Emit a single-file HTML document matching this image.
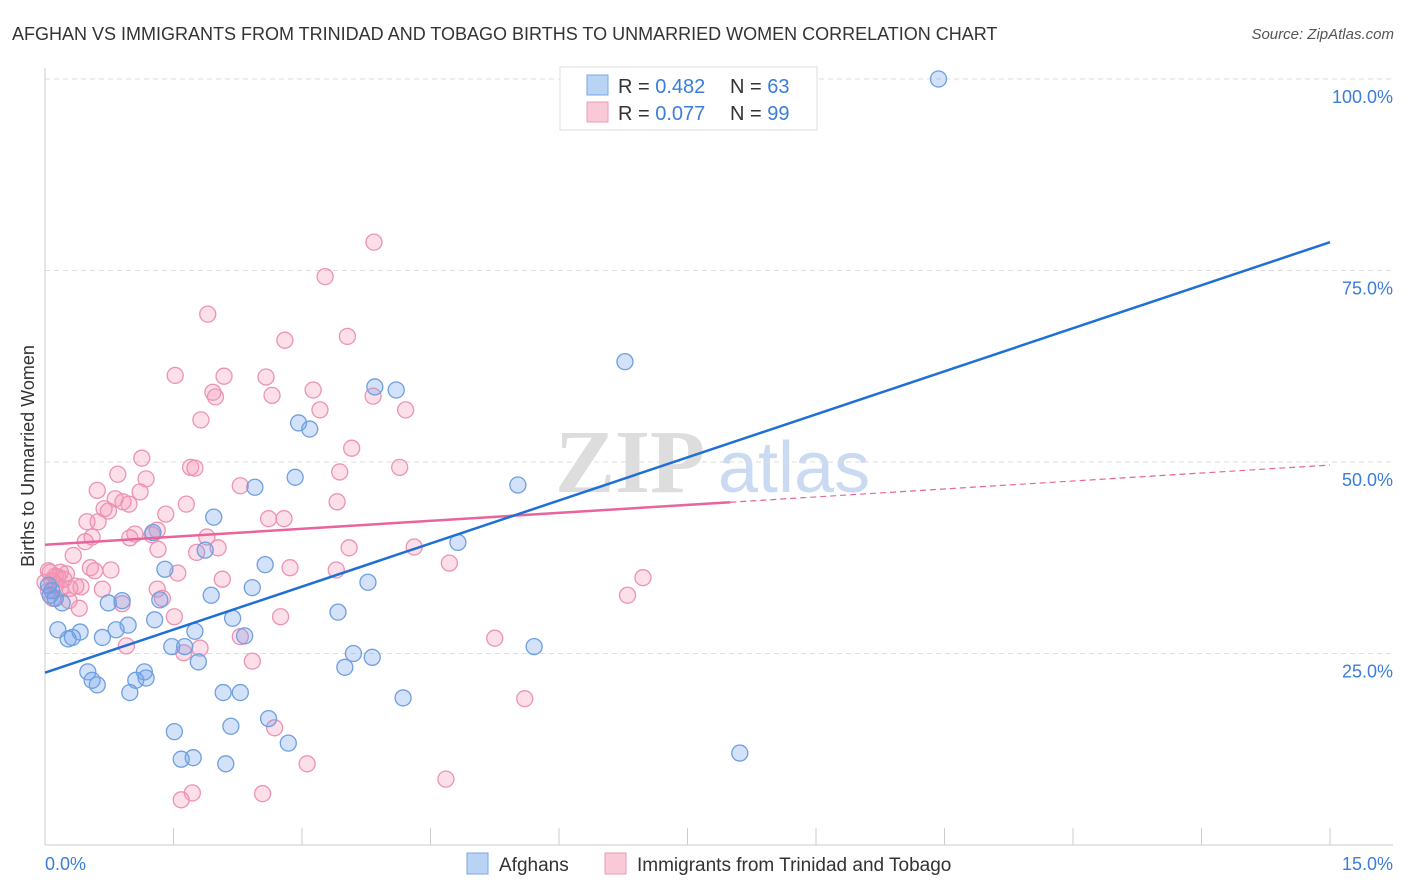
<!DOCTYPE html>
<html><head><meta charset="utf-8"><style>
body{margin:0;background:#fff;font-family:"Liberation Sans",sans-serif;}
svg{display:block}
</style></head><body>
<svg id="c" width="1406" height="892" xmlns="http://www.w3.org/2000/svg">
<text x="12" y="40" font-size="18" fill="#333">AFGHAN VS IMMIGRANTS FROM TRINIDAD AND TOBAGO BIRTHS TO UNMARRIED WOMEN CORRELATION CHART</text>
<text x="1394" y="39" font-size="15" fill="#555" font-style="italic" text-anchor="end">Source: ZipAtlas.com</text>
<text x="555" y="492" font-size="90" fill="#ddd" font-family="Liberation Serif" font-weight="bold">ZIP</text>
<text x="718" y="492" font-size="72" fill="#c9daf2">atlas</text>
<g id="grid"></g><g id="axes"></g><g id="pts"></g><g id="lines"></g>
<text transform="translate(34,456) rotate(-90)" font-size="18" fill="#333" text-anchor="middle">Births to Unmarried Women</text>
<text x="45" y="870" font-size="18" fill="#3b7dd8">0.0%</text>
<text x="1393" y="870" font-size="18" fill="#3b7dd8" text-anchor="end">15.0%</text>
<g>
<rect x="560" y="67" width="257" height="63" fill="#fff" stroke="#ddd"/>
<rect x="587" y="75" width="21" height="20" fill="#b9d3f5" stroke="#7aa6e6"/>
<rect x="587" y="102" width="21" height="20" fill="#f9c9d7" stroke="#ee9ab6"/>
<text x="618" y="93" font-size="20" fill="#333">R = <tspan fill="#3b7dd8">0.482</tspan></text>
<text x="730" y="93" font-size="20" fill="#333">N = <tspan fill="#3b7dd8">63</tspan></text>
<text x="618" y="120" font-size="20" fill="#333">R = <tspan fill="#3b7dd8">0.077</tspan></text>
<text x="730" y="120" font-size="20" fill="#333">N = <tspan fill="#3b7dd8">99</tspan></text>
</g>
<g>
<rect x="467" y="853" width="21" height="21" fill="#b9d3f5" stroke="#7aa6e6"/>
<text x="499" y="871" font-size="19" fill="#333">Afghans</text>
<rect x="605" y="853" width="21" height="21" fill="#f9c9d7" stroke="#ee9ab6"/>
<text x="637" y="871" font-size="19" fill="#333">Immigrants from Trinidad and Tobago</text>
</g>
</svg>
<script>
const yTicks=[25,50,75,100];
const yTickLabels=["25.0%","50.0%","75.0%","100.0%"];
const blueX=[10.43,6.77,3.85,4.10,2.96,3.09,2.92,5.52,2.45,1.97,4.82,1.26,1.87,2.57,1.40,3.77,2.42,1.94,1.34,0.90,0.74,0.20,3.42,2.19,1.28,0.97,1.75,2.33,0.15,0.83,0.41,0.32,0.27,0.67,1.63,1.48,5.71,3.60,3.82,1.79,3.50,1.16,0.50,1.18,1.06,0.55,0.61,2.08,2.28,0.99,4.18,2.61,2.17,1.51,2.84,1.73,1.59,2.11,8.11,0.06,0.08,0.12,0.04];
const blueY=[100,63.1,59.8,59.4,55.1,54.3,48.0,47.0,46.7,42.8,39.5,40.8,38.5,36.6,36.0,34.3,33.6,32.6,32.0,31.9,31.6,31.6,30.4,29.6,29.4,28.7,27.9,27.3,28.1,28.1,27.8,27.1,26.9,27.1,25.9,25.9,25.9,25.0,24.5,23.9,23.2,22.6,22.6,21.8,21.5,21.5,20.9,19.9,19.9,19.9,19.2,16.5,15.5,14.8,13.3,11.4,11.2,10.6,12.0,32.6,33.2,32.2,33.9];
const pinkX=[3.84,3.27,1.90,3.53,2.80,1.52,2.09,2.58,1.96,3.13,2.65,1.99,3.83,4.21,3.21,1.82,3.58,1.13,1.70,1.75,4.14,3.44,0.85,1.18,2.28,0.61,1.11,3.41,0.82,0.91,0.98,1.65,0.69,0.74,1.41,2.61,2.79,0.49,0.62,1.31,1.05,1.89,0.47,1.25,0.55,0.99,3.55,2.02,4.31,0.33,1.32,1.77,4.72,2.86,3.40,1.55,0.77,0.53,0.58,0.18,0.25,0.12,0.08,2.07,6.98,1.31,0.67,0.42,0.36,0.29,0.28,1.37,0.90,0.40,6.80,1.51,2.75,2.28,5.25,0.95,1.81,1.62,2.42,5.60,2.68,3.06,4.68,1.72,2.54,1.59,0.06,0.13,0.04,0.09,0.15,0.22,0.00,0.18,0.04];
const pinkY=[78.7,74.2,69.3,66.4,65.9,61.3,61.2,61.1,59.1,59.4,58.7,58.5,58.6,56.8,56.8,55.5,51.8,50.5,49.3,49.2,49.3,48.7,48.4,47.8,46.9,46.3,46.1,44.8,45.2,44.8,44.5,44.5,43.9,43.6,43.2,42.6,42.6,42.2,42.2,41.1,40.6,40.2,39.6,40.5,40.2,40.1,38.8,38.8,38.9,37.8,38.6,38.2,36.8,36.2,35.9,35.5,35.9,36.2,35.8,35.6,35.4,35.1,34.5,34.7,34.9,33.4,33.4,33.7,33.8,33.5,31.9,32.2,31.5,30.9,32.6,29.8,29.8,27.2,27.0,26.0,25.7,25.1,24.0,19.1,15.3,10.6,8.6,6.8,6.7,5.9,35.6,34.0,33.2,32.2,35.0,34.7,34.3,33.4,35.8];
const blueLine=[22.5,78.7];
const pinkLine=[39.2,49.6];
const pinkSolidEnd=8.0;
const NS="http://www.w3.org/2000/svg";
const X=v=>45+v/15*1285;
const Y=v=>845-v*7.66;
function mk(t,a,p){const e=document.createElementNS(NS,t);for(const k in a)e.setAttribute(k,a[k]);p.appendChild(e);return e;}
const grid=document.getElementById('grid'),axes=document.getElementById('axes'),pts=document.getElementById('pts'),lines=document.getElementById('lines');
yTicks.forEach((t,i)=>{
 const l=mk('line',{x1:45,x2:1393,y1:Y(t),y2:Y(t),stroke:'#ddd','stroke-dasharray':'5,4'},grid);
 
 
 const tx=mk('text',{x:1393,y:Y(t)+24,'font-size':18,fill:'#3b7dd8','text-anchor':'end'},axes);
 tx.textContent=yTickLabels[i];
 
 
});
const xa=mk('line',{x1:45,x2:1393,y1:845,y2:845,stroke:'#ccc'},axes);


const ya=mk('line',{x1:45,x2:45,y1:68,y2:845,stroke:'#ccc'},axes);


for(let i=0;i<=10;i++){const t=mk('line',{x1:X(i*1.5),x2:X(i*1.5),y1:828,y2:845,stroke:'#ccc'},axes);
 
 }
pinkX.forEach((x,i)=>{const c=mk('circle',{cx:X(x),cy:Y(pinkY[i]),r:8,fill:'rgba(244,150,180,0.3)',stroke:'#ec93b1','stroke-width':1.3},pts);
 
 });
blueX.forEach((x,i)=>{const c=mk('circle',{cx:X(x),cy:Y(blueY[i]),r:8,fill:'rgba(110,160,235,0.3)',stroke:'#6e9fe0','stroke-width':1.3},pts);
 
 });
const pf=v=>pinkLine[0]+(pinkLine[1]-pinkLine[0])*v/15;
const p1=mk('line',{x1:X(0),y1:Y(pinkLine[0]),x2:X(pinkSolidEnd),y2:Y(pf(pinkSolidEnd)),stroke:'#e8649a','stroke-width':2.5},lines);


const p2=mk('line',{x1:X(pinkSolidEnd),y1:Y(pf(pinkSolidEnd)),x2:X(15),y2:Y(pinkLine[1]),stroke:'#e8649a','stroke-width':1.2,'stroke-dasharray':'6,4'},lines);


const b=mk('line',{x1:X(0),y1:Y(blueLine[0]),x2:X(15),y2:Y(blueLine[1]),stroke:'#1f6fd6','stroke-width':2.5},lines);


</script>
</body></html>
